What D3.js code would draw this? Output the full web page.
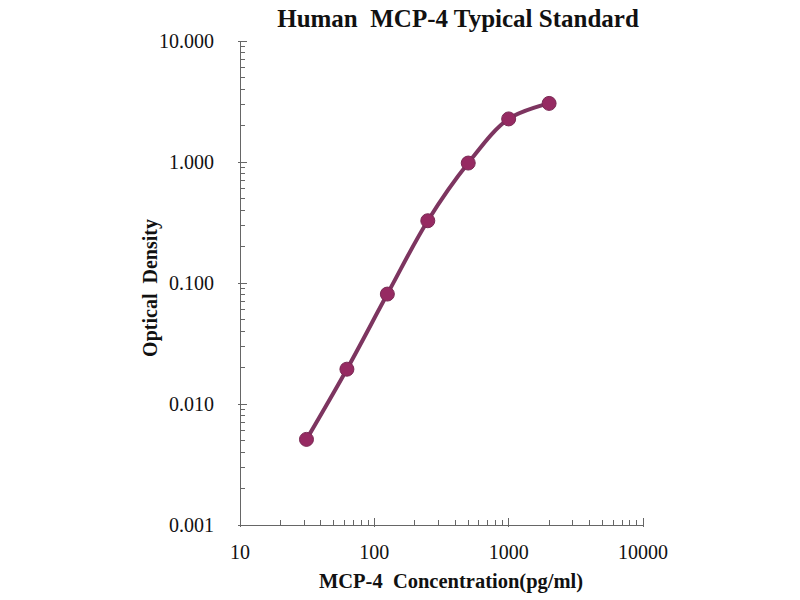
<!DOCTYPE html>
<html>
<head>
<meta charset="utf-8">
<script src="https://cdn.jsdelivr.net/npm/d3@7"></script>
<style>
  body { margin: 0; background: #fff; }
  text { font-family: "Liberation Serif", "Times New Roman", serif; fill: #111; }
</style>
</head>
<body>
<script>
// standard curve: concentration (pg/ml) vs optical density
var concentrations = [31.25, 62.5, 125, 250, 500, 1000, 2000];
var densities = [0.0051, 0.0194, 0.081, 0.327, 0.98, 2.27, 3.05];
var xTicks = [10, 100, 1000, 10000];
var yTicks = [0.001, 0.01, 0.1, 1, 10];
var yTickLabels = ["0.001", "0.010", "0.100", "1.000", "10.000"];

var width = 800;
var height = 600;
var plotLeft = 240, plotRight = 643, plotTop = 41, plotBottom = 525;
var lineColor = "#7d3560";
var dotColor = "#962a62";
var axisColor = "#666";

var svg = d3.select("body").append("svg")
    .attr("width", width)
    .attr("height", height);

var x = d3.scaleLog().domain([10, 10000]).range([plotLeft, plotRight]);
var y = d3.scaleLog().domain([0.001, 10]).range([plotBottom, plotTop]);

// minor ticks for each decade
var minorX = [];
xTicks.slice(0, -1).forEach(function(d) {
  for (var k = 2; k <= 9; k++) minorX.push(d * k);
});
var minorY = [];
yTicks.slice(0, -1).forEach(function(d) {
  for (var k = 2; k <= 9; k++) minorY.push(d * k);
});

var axes = svg.append("g")
    .attr("stroke", axisColor)
    .attr("stroke-width", 1)
    .attr("shape-rendering", "crispEdges");

axes.append("line")
    .attr("x1", plotLeft).attr("x2", plotLeft)
    .attr("y1", plotTop).attr("y2", plotBottom);
axes.append("line")
    .attr("x1", plotLeft).attr("x2", plotRight)
    .attr("y1", plotBottom).attr("y2", plotBottom);

axes.selectAll("line.ymajor").data(yTicks).enter().append("line")
    .attr("class", "ymajor")
    .attr("x1", plotLeft - 2).attr("x2", plotLeft + 7)
    .attr("y1", function(d) { return y(d); })
    .attr("y2", function(d) { return y(d); });
axes.selectAll("line.yminor").data(minorY).enter().append("line")
    .attr("class", "yminor")
    .attr("x1", plotLeft).attr("x2", plotLeft + 5)
    .attr("y1", function(d) { return y(d); })
    .attr("y2", function(d) { return y(d); });

axes.selectAll("line.xmajor").data(xTicks).enter().append("line")
    .attr("class", "xmajor")
    .attr("x1", function(d) { return x(d); })
    .attr("x2", function(d) { return x(d); })
    .attr("y1", plotBottom + 2).attr("y2", plotBottom - 7);
axes.selectAll("line.xminor").data(minorX).enter().append("line")
    .attr("class", "xminor")
    .attr("x1", function(d) { return x(d); })
    .attr("x2", function(d) { return x(d); })
    .attr("y1", plotBottom).attr("y2", plotBottom - 5);

// tick labels
svg.selectAll("text.ylab").data(yTicks).enter().append("text")
    .attr("class", "ylab")
    .attr("x", 214)
    .attr("y", function(d) { return y(d) + 7; })
    .attr("text-anchor", "end")
    .attr("font-size", 20)
    .text(function(d, i) { return yTickLabels[i]; });

svg.selectAll("text.xlab").data(xTicks).enter().append("text")
    .attr("class", "xlab")
    .attr("x", function(d) { return x(d); })
    .attr("y", 559)
    .attr("text-anchor", "middle")
    .attr("font-size", 20)
    .text(function(d) { return d; });

// titles
svg.append("text")
    .attr("x", 458).attr("y", 27)
    .attr("text-anchor", "middle")
    .attr("font-size", 25)
    .attr("font-weight", "bold")
    .attr("xml:space", "preserve")
    .text("Human  MCP-4 Typical Standard");

svg.append("text")
    .attr("x", 451).attr("y", 588)
    .attr("text-anchor", "middle")
    .attr("font-size", 20.5)
    .attr("font-weight", "bold")
    .attr("xml:space", "preserve")
    .text("MCP-4  Concentration(pg/ml)");

svg.append("text")
    .attr("transform", "translate(157,288) rotate(-90)")
    .attr("text-anchor", "middle")
    .attr("font-size", 20)
    .attr("font-weight", "bold")
    .attr("xml:space", "preserve")
    .text("Optical  Density");

// curve and points
var pts = concentrations.map(function(c, i) { return [c, densities[i]]; });

var line = d3.line()
    .x(function(d) { return x(d[0]); })
    .y(function(d) { return y(d[1]); })
    .curve(d3.curveCatmullRom.alpha(0.5));

svg.append("path")
    .datum(pts)
    .attr("d", line)
    .attr("fill", "none")
    .attr("stroke", lineColor)
    .attr("stroke-width", 4);

svg.selectAll("circle.dot").data(pts).enter().append("circle")
    .attr("class", "dot")
    .attr("cx", function(d) { return x(d[0]); })
    .attr("cy", function(d) { return y(d[1]); })
    .attr("r", 7)
    .attr("fill", dotColor)
    .attr("stroke", "#7a2a55")
    .attr("stroke-width", 1);
</script>
</body>
</html>
